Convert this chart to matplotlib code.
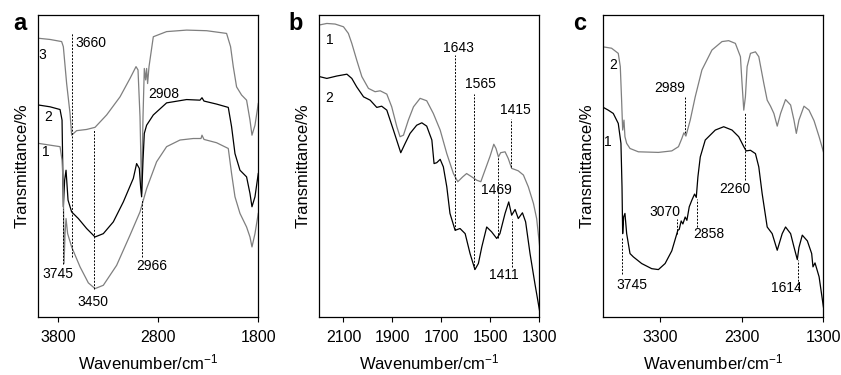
import numpy as np
import matplotlib
matplotlib.use("Agg")
import matplotlib.pyplot as plt

plt.rcParams['font.family'] = ['Liberation Sans', 'DejaVu Sans']
plt.rcParams['mathtext.default'] = 'regular'

# ---- panel a : wavenumber / transmittance ----
a3_w = [4000, 3883, 3767, 3750, 3717, 3683, 3667, 3617, 3517, 3433, 3317, 3183, 3083, 3023, 3003,
        2983, 2967, 2953, 2940, 2927, 2917, 2907, 2893, 2850, 2717, 2517, 2317, 2117, 2077, 2050,
        2017, 1967, 1917, 1883, 1863, 1833, 1800]
a3_t = [92.3, 91.9, 91.2, 89.5, 77.3, 67.4, 60.2, 61.7, 62.1, 62.8, 66.9, 72.9, 79.0, 82.9, 81.8,
        66.3, 40.9, 66.3, 82.3, 78.5, 82.3, 77.3, 82.9, 92.8, 94.5, 95.0, 94.8, 93.9, 89.5, 82.9,
        76.2, 73.5, 71.8, 65.2, 60.2, 63.5, 70.7]

a2_w = [4000, 3883, 3783, 3763, 3750, 3737, 3723, 3703, 3667, 3600, 3517, 3433, 3350, 3250, 3150,
        3050, 3017, 2990, 2977, 2967, 2953, 2940, 2917, 2850, 2717, 2517, 2383, 2363, 2343, 2217,
        2100, 2067, 2033, 1983, 1917, 1883, 1863, 1833, 1800]
a2_t = [70.2, 69.6, 68.7, 65.2, 36.5, 45.3, 48.6, 38.7, 34.8, 32.6, 29.3, 26.5, 27.6, 31.5, 38.1,
        45.9, 50.8, 49.2, 43.1, 39.8, 51.9, 60.8, 63.5, 66.9, 70.9, 72.0, 71.8, 72.6, 71.5, 70.5,
        69.4, 63.0, 54.1, 48.6, 46.4, 40.9, 36.5, 39.8, 47.5]

a1_w = [4000, 3883, 3783, 3763, 3750, 3743, 3733, 3723, 3707, 3667, 3583, 3500, 3433, 3350, 3217,
        3083, 2983, 2917, 2817, 2717, 2583, 2450, 2373, 2363, 2343, 2217, 2100, 2067, 2033, 1983,
        1917, 1883, 1863, 1833, 1800]
a1_t = [57.5, 56.9, 56.4, 51.9, 43.1, 17.7, 27.6, 32.6, 27.6, 23.2, 16.6, 11.3, 9.4, 10.5, 17.1,
        27.1, 34.8, 42.5, 51.4, 56.4, 58.6, 59.1, 59.1, 60.2, 58.8, 57.7, 55.8, 47.5, 39.8, 34.3,
        29.8, 26.5, 23.2, 27.6, 34.3]

# ---- panel b ----
b1_w = [2198, 2168, 2134, 2100, 2080, 2066, 2046, 2025, 1998, 1971, 1950, 1923, 1903, 1882, 1869,
        1855, 1835, 1814, 1787, 1760, 1733, 1705, 1678, 1651, 1633, 1613, 1597, 1576, 1556, 1539,
        1522, 1501, 1486, 1477, 1467, 1458, 1440, 1427, 1413, 1399, 1386, 1365, 1345, 1324, 1311,
        1297]
b1_t = [96.7, 97.2, 97.0, 96.1, 93.9, 90.6, 85.1, 79.6, 75.7, 74.6, 74.9, 73.8, 69.6, 63.0, 59.7,
        60.2, 65.2, 69.6, 72.4, 71.6, 67.4, 61.9, 54.1, 47.5, 44.8, 46.4, 47.5, 46.4, 45.3, 44.8,
        48.6, 53.3, 57.2, 55.8, 53.0, 54.4, 54.7, 52.5, 49.2, 48.8, 48.4, 47.0, 43.1, 37.6, 32.6,
        22.1]

b2_w = [2198, 2168, 2127, 2086, 2066, 2046, 2018, 1991, 1964, 1944, 1923, 1896, 1866, 1848, 1828,
        1801, 1780, 1760, 1739, 1730, 1719, 1705, 1692, 1678, 1665, 1644, 1624, 1603, 1583, 1563,
        1549, 1535, 1515, 1495, 1474, 1461, 1440, 1425, 1413, 1399, 1386, 1369, 1356, 1338, 1318,
        1297]
b2_t = [79.6, 79.0, 79.8, 80.4, 79.0, 76.2, 72.9, 71.8, 69.4, 69.8, 68.5, 61.9, 54.4, 57.5, 60.8,
        63.5, 64.3, 63.2, 58.6, 50.8, 51.1, 52.2, 49.7, 43.1, 34.3, 28.7, 29.3, 27.6, 21.0, 15.7,
        17.7, 23.2, 29.8, 28.2, 26.0, 27.6, 34.3, 38.1, 33.7, 35.6, 32.6, 34.5, 31.5, 21.0, 11.0,
        1.1]

# ---- panel c ----
c2_w = [4009, 3895, 3813, 3788, 3772, 3759, 3743, 3731, 3710, 3669, 3567, 3321, 3157, 3075, 3034,
        3009, 2984, 2931, 2870, 2788, 2665, 2542, 2460, 2378, 2316, 2296, 2275, 2255, 2234, 2193,
        2132, 2091, 2029, 1988, 1947, 1906, 1865, 1824, 1763, 1701, 1660, 1631, 1599, 1537, 1476,
        1414, 1352, 1299]
c2_t = [89.5, 89.0, 87.3, 82.9, 71.8, 61.9, 65.2, 59.7, 57.5, 55.8, 54.7, 54.5, 55.0, 56.4, 59.1,
        61.0, 59.9, 65.2, 72.9, 81.8, 88.4, 91.2, 91.5, 90.6, 86.2, 77.3, 68.5, 72.9, 82.9, 87.3,
        87.8, 86.2, 77.3, 71.8, 69.8, 67.4, 63.2, 67.4, 72.0, 70.2, 65.2, 60.8, 65.2, 69.8, 68.5,
        65.0, 59.7, 54.7]

c1_w = [4009, 3936, 3874, 3813, 3780, 3767, 3759, 3747, 3731, 3710, 3669, 3628, 3526, 3403, 3321,
        3239, 3157, 3095, 3083, 3066, 3042, 3021, 2993, 2972, 2943, 2911, 2878, 2857, 2837, 2808,
        2747, 2624, 2521, 2419, 2337, 2275, 2246, 2193, 2132, 2091, 2050, 1988, 1927, 1865, 1804,
        1763, 1701, 1660, 1619, 1599, 1558, 1496, 1443, 1427, 1402, 1352, 1299]
c1_t = [69.6, 68.5, 67.4, 64.1, 57.5, 43.1, 27.6, 33.1, 34.3, 27.6, 21.0, 19.9, 17.7, 16.0, 15.7,
        17.7, 21.9, 27.6, 28.7, 29.0, 31.8, 30.8, 33.1, 32.0, 36.5, 38.7, 40.7, 39.6, 46.4, 53.0,
        58.6, 61.9, 63.0, 61.9, 59.7, 56.4, 55.0, 55.2, 54.1, 49.7, 40.9, 29.8, 27.6, 22.1, 27.6,
        29.8, 27.6, 23.2, 19.0, 23.0, 27.1, 25.2, 21.0, 16.6, 17.9, 13.3, 3.3]

# marked bands: (wavenumber, line bottom, line top, label x, label y, text)
a_marks = [(3660, 19.9, 93.9, 3633, 90.6, '3660'),
           (3440, 9.4, 62.4, 3450, 5.0, '3450'),
           (3750, 17.7, 35.9, 3800, 14.4, '3745'),
           (2967, 19.9, 39.2, 2867, 16.9, '2966'),
           (None, 0, 0, 2750, 74.0, '2908')]
b_marks = [(1643, 28.7, 86.7, 1632, 89.0, '1643'),
           (1565, 16.0, 74.0, 1542, 77.3, '1565'),
           (1415, 49.7, 65.7, 1399, 68.7, '1415'),
           (1469, 26.0, 53.0, 1474, 42.0, '1469'),
           (1411, 16.6, 32.6, 1447, 13.8, '1411')]
c_marks = [(2993, 60.8, 72.9, 3177, 75.7, '2989'),
           (2263, 45.3, 68.0, 2378, 42.5, '2260'),
           (3091, 27.6, 32.6, 3247, 34.8, '3070'),
           (2853, 29.8, 39.2, 2706, 27.6, '2858'),
           (3763, 14.4, 26.5, 3640, 10.5, '3745'),
           (1605, 9.7, 18.8, 1750, 9.7, '1614')]

GRAY = '#7f7f7f'

fig = plt.figure(figsize=(8.41, 3.75), dpi=100)

panels = [
    ([0.0456, 0.1547, 0.2615, 0.8053], (4000, 1800), [3800, 2800, 1800],
     [(a3_w, a3_t, GRAY), (a2_w, a2_t, 'black'), (a1_w, a1_t, GRAY)],
     [('3', 3957, 86.7), ('2', 3900, 66.3), ('1', 3923, 54.7)], a_marks, 'a', 13),
    ([0.3793, 0.1547, 0.262, 0.8053], (2200, 1300), [2100, 1900, 1700, 1500, 1300],
     [(b1_w, b1_t, GRAY), (b2_w, b2_t, 'black')],
     [('1', 2157, 91.7), ('2', 2157, 72.4)], b_marks, 'b', 288),
    ([0.7170, 0.1547, 0.262, 0.8053], (4000, 1300), [3300, 2300, 1300],
     [(c2_w, c2_t, GRAY), (c1_w, c1_t, 'black')],
     [('2', 3874, 83.4), ('1', 3936, 58.0)], c_marks, 'c', 573),
]

for rect, xl, ticks, curves, nums, marks, letter, lx in panels:
    ax = fig.add_axes(rect)
    for w, t, col in curves:
        ax.plot(w, t, color=col, lw=0.9)
    for m in marks:
        if m[0] is not None:
            ax.vlines(m[0], m[1], m[2], colors='black', lw=0.7, linestyles=(0, (2, 1.5)))
        ha = 'left' if m[5] == '3660' and letter == 'a' else 'center'
        ax.text(m[3], m[4], m[5], fontsize=10, ha=ha, va='center')
    for s, x, y in nums:
        ax.text(x, y, s, fontsize=10, ha='center', va='center')
    ax.set_xlim(*xl)
    ax.set_ylim(0, 100)
    ax.set_xticks(ticks)
    ax.set_yticks([])
    ax.tick_params(axis='x', direction='out', length=3.5, width=0.8, labelsize=11.5, pad=6)
    for sp in ax.spines.values():
        sp.set_linewidth(0.9)
    ax.set_xlabel(r'Wavenumber/cm$^{-1}$', fontsize=12, labelpad=5)
    ax.set_ylabel('Transmittance/%', fontsize=12, labelpad=6)
    fig.text(lx / 841, 1 - 30 / 375, letter, fontsize=17, fontweight='bold', ha='left', va='baseline')

plt.savefig('out.png', dpi=100)
